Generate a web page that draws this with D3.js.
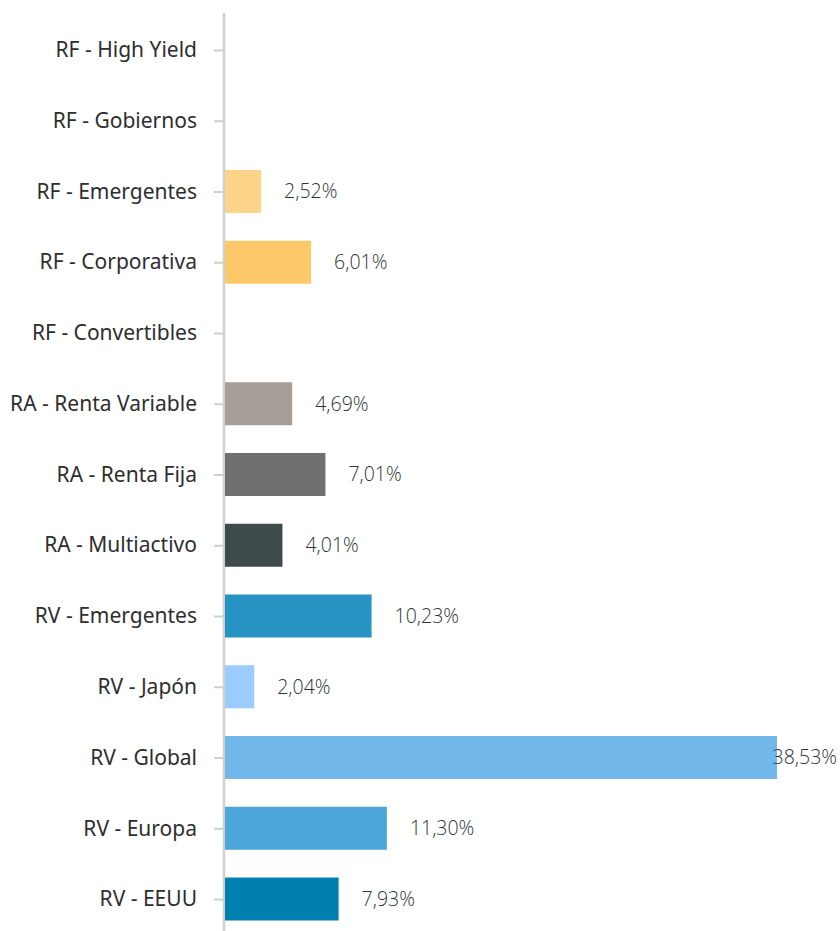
<!DOCTYPE html>
<html lang="es">
<head>
  <meta charset="UTF-8">
  <title>distribucion-bar-chart</title>
  <script src="https://cdn.jsdelivr.net/npm/d3@7"></script>
  <style>
    body { margin: 0; background: #fff; }
    .axis path, .axis line { stroke: #cfcfcf; }
    .axis text { font-family: "Noto Sans", "Open Sans", sans-serif; font-size: 21px; fill: #2e2e2e; }
    .value { font-family: "Open Sans", sans-serif; font-size: 19.5px; font-weight: 300; fill: #2c3535; }
  </style>
</head>
<body>
<script>
let categories = [
  'RF - High Yield', 'RF - Gobiernos', 'RF - Emergentes', 'RF - Corporativa',
  'RF - Convertibles', 'RA - Renta Variable', 'RA - Renta Fija', 'RA - Multiactivo',
  'RV - Emergentes', 'RV - Japón', 'RV - Global', 'RV - Europa', 'RV - EEUU'
];
let values = [0, 0, 2.52, 6.01, 0, 4.69, 7.01, 4.01, 10.23, 2.04, 38.53, 11.30, 7.93];
let colors = [
  '#fdd58a', '#fdd58a', '#fdd58a', '#fcc96a', '#fcc96a', '#a59e98', '#6f706d',
  '#3f4a4a', '#2793c2', '#9accfe', '#72b8ea', '#4ca6d8', '#0080af'
];

let _width = 840;
let _height = 931;
let axisX = 224;

let svg = d3.select('body')
  .append('svg')
  .attr('width', _width)
  .attr('height', _height);

let x = d3.scaleLinear()
  .domain([0, 38.53])
  .range([axisX + 1, 777]);

let y = d3.scalePoint()
  .domain(categories)
  .range([14.6, 934.4])
  .padding(0.5);

let barHeight = 43;

let yAxis = d3.axisLeft(y)
  .tickSize(10)
  .tickPadding(17);

let axisG = svg.append('g')
  .attr('class', 'axis')
  .attr('transform', 'translate(' + axisX + ',0)')
  .call(yAxis);

axisG.select('.domain').remove();
axisG.selectAll('.tick line').attr('stroke-width', 2);
axisG.append('line')
  .attr('x1', 0).attr('x2', 0)
  .attr('y1', 13).attr('y2', _height)
  .attr('stroke', '#cfcfcf')
  .attr('stroke-width', 2.5);

let rows = categories.map(function (c, i) {
  return {name: c, value: values[i], color: colors[i]};
}).filter(function (d) { return d.value > 0; });

svg.append('g')
  .selectAll('rect')
  .data(rows)
  .enter()
  .append('rect')
  .attr('x', x(0))
  .attr('y', function (d) { return y(d.name) - barHeight / 2; })
  .attr('width', function (d) { return x(d.value) - x(0); })
  .attr('height', barHeight)
  .attr('fill', function (d) { return d.color; });

let fmt = function (v) { return v.toFixed(2).replace('.', ',') + '%'; };

svg.append('g')
  .selectAll('text')
  .data(rows)
  .enter()
  .append('text')
  .attr('class', 'value')
  .attr('y', function (d) { return y(d.name); })
  .attr('dy', '0.35em')
  .text(function (d) { return fmt(d.value); })
  .each(function (d) {
    let w = this.getComputedTextLength();
    let pos = Math.min(x(d.value) + 23, _width - 3 - w);
    d3.select(this).attr('x', pos);
  });
</script>
</body>
</html>
